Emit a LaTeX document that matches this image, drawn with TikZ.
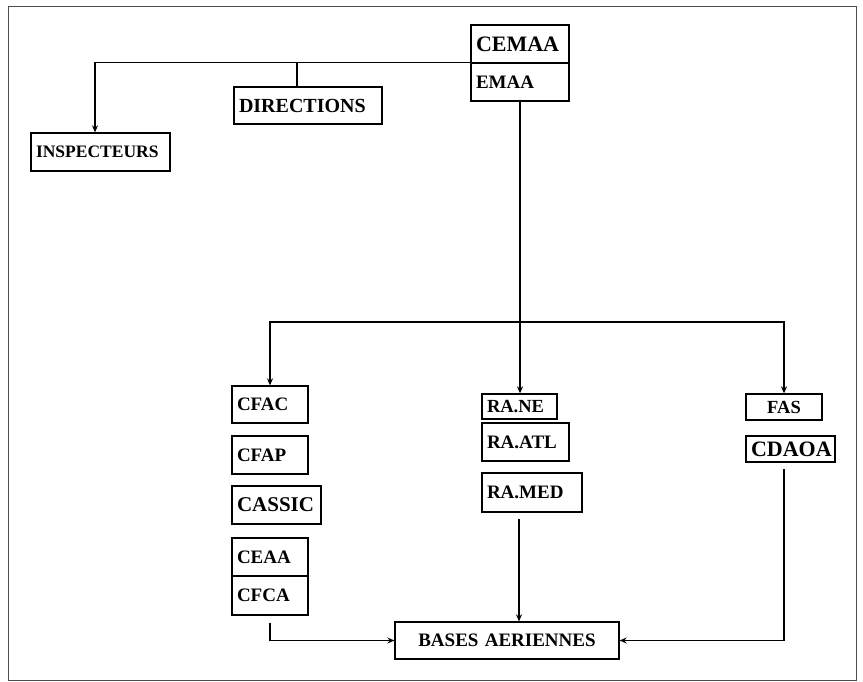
\documentclass[tikz,border=0pt]{standalone}
\usepackage{fontspec}
\setmainfont{Liberation Serif}
\usetikzlibrary{arrows.meta}
\begin{document}
\begin{tikzpicture}[
	x=1pt,y=-1pt,
	unit/.style={draw,line width=1.3pt,inner xsep=5pt,inner ysep=0pt,align=left,
		font=\fontsize{19}{22}\selectfont\bfseries},
	link/.style={line width=1.2pt,-{Stealth[length=7pt,width=6pt]}},
	trunk/.style={line width=1.2pt}
	]
	\useasboundingbox (0,0) rectangle (863,682);
	\draw[line width=1pt,black!70] (8,7) rectangle (856,680);
	% top
	\node[unit,text width=88pt,minimum height=38pt,font=\fontsize{22}{24}\selectfont\bfseries]  (cemaa) at (520,44)  {CEMAA};
	\node[unit,text width=88pt,minimum height=38pt]  (emaa) at (520,82)  {EMAA};
	\node[unit,text width=138pt,minimum height=37pt,font=\fontsize{20}{22}\selectfont\bfseries]  (directions) at (308,105.5)  {DIRECTIONS};
	\node[unit,text width=129pt,minimum height=38pt,font=\fontsize{17.5}{20}\selectfont\bfseries]  (inspecteurs) at (100.5,152)  {INSPECTEURS};
	% left column
	\node[unit,text width=66pt,minimum height=37pt]  (cfac) at (270,404.5)  {CFAC};
	\node[unit,text width=66pt,minimum height=38pt]  (cfap) at (270,455)  {CFAP};
	\node[unit,text width=79pt,minimum height=38pt,font=\fontsize{21}{23}\selectfont\bfseries]  (cassic) at (276.5,505)  {CASSIC};
	\node[unit,text width=66pt,minimum height=38pt]  (ceaa) at (270,557)  {CEAA};
	\node[unit,text width=66pt,minimum height=39pt]  (cfca) at (270,595.5)  {CFCA};
	% middle column
	\node[unit,text width=65pt,minimum height=25pt,font=\fontsize{18.5}{20}\selectfont\bfseries]  (rane) at (519.5,406.5)  {RA.NE};
	\node[unit,text width=77pt,minimum height=38pt]  (raatl) at (525.5,442)  {RA.ATL};
	\node[unit,text width=90pt,minimum height=39pt]  (ramed) at (532,492.5)  {RA.MED};
	% right column
	\node[unit,text width=66pt,minimum height=26pt,align=center,font=\fontsize{18.5}{20}\selectfont\bfseries]  (fas) at (784,407)  {FAS};
	\node[unit,text width=79pt,minimum height=26pt,font=\fontsize{22}{24}\selectfont\bfseries]  (cdaoa) at (790.5,449)  {CDAOA};
	% bottom
	\node[unit,text width=214pt,minimum height=37pt,align=center]  (bases) at (507,640.5)  {BASES AERIENNES};
	\coordinate (hub) at (520,322);
	\draw[link]  (emaa.north west) -| ([xshift=-5.5pt]inspecteurs.north);
	\draw[trunk]  ([xshift=-11pt]directions.north) |- (emaa.north west);
	\draw[trunk]  (emaa.south) -- (hub);
	\draw[link]  (hub) -| (cfac.north);
	\draw[link]  (hub) -| (fas.north);
	\draw[link]  (hub) -- (hub |- rane.north);
	\draw[link,shorten <=6pt]  ([xshift=-13pt]ramed.south) -- ([xshift=-13pt]ramed.south |- bases.north);
	\draw[link,shorten <=7pt]  (cfca.south) |- (bases.west);
	\draw[link,shorten <=6pt]  ([xshift=-6.5pt]cdaoa.south) |- (bases.east);
\end{tikzpicture}
\end{document}
